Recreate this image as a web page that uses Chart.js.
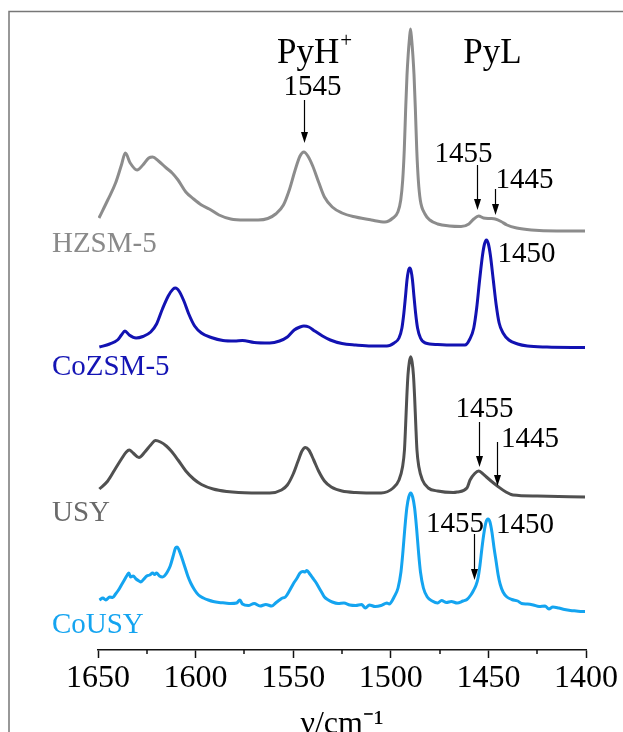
<!DOCTYPE html>
<html><head><meta charset="utf-8">
<script src="https://cdn.jsdelivr.net/npm/chart.js@4/dist/chart.umd.min.js"></script>
<style>html,body{margin:0;padding:0;background:#fff;}#wrap{width:623px;height:732px;position:relative;}</style>
</head><body><div id="wrap"><canvas id="c" width="623" height="732"></canvas></div>
<script>
// ---------- data (wavenumber / cm-1 and stacked intensity, a.u.) ----------
const xTicks = [1650, 1600, 1550, 1500, 1450, 1400];
const xMinorTicks = [1625, 1575, 1525, 1475, 1425];
const axisTitle = 'ν/cm⁻¹';

const seriesNames = ['HZSM-5', 'CoZSM-5', 'USY', 'CoUSY'];

const hzWn  = [1649.5,1645,1641,1638,1636,1633.5,1630,1627,1624,1622,1619,1615,1612,1609,1605,1601,1597,1593,1588,1582,1575,1568,1563,1559,1555,1552,1549,1546.5,1544.5,1542.5,1540,1537,1534,1530,1525,1518,1510,1503,1498.9,1496.4,1494.9,1493.9,1493.1,1492.4,1491.7,1491.1,1490.5,1489.9,1489.3,1488.7,1488.1,1487.4,1486.7,1485.9,1484.9,1482.5,1480,1476,1470,1464,1460,1457.5,1455,1452.5,1449,1446.5,1443.5,1440.5,1435.5,1428,1415,1400.5];
const hzAbs = [4.32,4.50,4.67,4.85,4.97,4.87,4.80,4.85,4.92,4.93,4.89,4.82,4.77,4.70,4.58,4.51,4.45,4.41,4.35,4.31,4.30,4.30,4.315,4.36,4.45,4.60,4.80,4.94,4.98,4.94,4.84,4.68,4.53,4.43,4.37,4.33,4.30,4.28,4.32,4.38,4.50,4.70,5.00,5.40,5.75,5.95,6.10,6.21,6.10,5.95,5.75,5.40,5.00,4.70,4.50,4.36,4.30,4.26,4.24,4.235,4.26,4.31,4.34,4.32,4.315,4.31,4.285,4.25,4.22,4.20,4.19,4.19];

const cozWn  = [1649.3,1644,1640,1638,1636.2,1634,1630.5,1627,1623,1620,1617,1614,1611.5,1610.3,1608.5,1606,1603.5,1600.5,1597,1592,1586,1580,1576,1570,1562,1557,1553,1549.5,1546.5,1544.5,1542,1539,1535,1531,1525,1518,1510,1502,1498.3,1495.8,1494.3,1493.3,1492.5,1491.7,1491.0,1490.3,1489.6,1488.9,1488.1,1487.3,1486.3,1484.8,1482.3,1476,1468,1462,1459.5,1457.5,1456,1454.5,1453,1452,1451,1450,1449,1447.5,1446,1444.5,1442.5,1439.5,1435,1430,1420,1400.5];
const cozAbs = [3.03,3.06,3.10,3.15,3.19,3.15,3.12,3.135,3.18,3.26,3.41,3.54,3.61,3.62,3.59,3.49,3.36,3.24,3.17,3.125,3.095,3.09,3.095,3.075,3.07,3.09,3.13,3.20,3.23,3.24,3.23,3.19,3.14,3.10,3.065,3.05,3.04,3.04,3.07,3.12,3.22,3.37,3.53,3.70,3.79,3.82,3.79,3.70,3.53,3.37,3.22,3.12,3.07,3.055,3.05,3.05,3.11,3.22,3.42,3.70,3.95,4.06,4.10,4.06,3.95,3.70,3.45,3.27,3.17,3.10,3.06,3.04,3.03,3.025];

const usyWn  = [1649.3,1645,1641.5,1638,1635.5,1634,1632,1629,1626,1623,1620.5,1618,1615,1612.5,1609,1605,1601,1597,1591,1584,1578,1562,1556,1553,1550,1547.5,1545.5,1543.8,1542,1539.5,1537,1534,1530.5,1525,1518,1505,1498.8,1495.8,1494.0,1493.0,1492.4,1491.8,1491.2,1490.5,1489.8,1489.1,1488.4,1487.8,1487.2,1486.6,1485.6,1483.8,1480.8,1476,1468,1466,1461,1459.4,1457,1455,1453,1451,1448,1445.4,1441,1437.4,1425,1400.5];
const usyAbs = [1.61,1.69,1.80,1.91,1.98,2.00,1.97,1.925,1.98,2.05,2.095,2.08,2.04,1.99,1.90,1.79,1.71,1.655,1.61,1.585,1.575,1.57,1.60,1.65,1.76,1.89,1.99,2.025,2.00,1.90,1.79,1.69,1.63,1.59,1.575,1.57,1.62,1.70,1.83,2.00,2.25,2.53,2.75,2.88,2.933,2.88,2.75,2.53,2.25,2.00,1.83,1.70,1.62,1.59,1.575,1.58,1.62,1.70,1.765,1.79,1.765,1.73,1.68,1.64,1.58,1.55,1.54,1.53];

const cousyWn  = [1649.3,1647.5,1646,1644,1642.5,1641,1639.5,1638,1636.5,1635,1634.2,1633.3,1632,1630.5,1629,1628,1626.5,1625,1623.5,1622,1621,1620,1618.5,1617,1616,1614.5,1613,1611.5,1610.3,1609.5,1608.5,1607,1605.5,1604,1602.5,1600.5,1598.5,1596,1593.5,1591,1588,1585,1582,1579,1577.3,1576,1573,1570,1567,1564,1561,1559,1557,1555.5,1554,1552,1550,1548,1546.5,1545,1544,1543,1541.5,1540,1538.5,1537,1535.5,1534,1532,1530,1527,1524,1521,1518,1515,1513,1511,1508,1505,1502,1500.8,1498.3,1496.3,1494.8,1493.8,1492.8,1491.8,1490.8,1489.8,1488.8,1487.8,1486.8,1485.8,1484.8,1483.3,1481.3,1478.8,1476,1474,1471.5,1469,1466,1463,1461,1459,1457.5,1456.3,1455.3,1454.3,1453.3,1452.2,1451.2,1450.2,1449.2,1448.2,1447.1,1446,1445,1444,1442.5,1440.5,1438,1435,1433,1430,1427,1424,1421,1419,1417,1414,1411,1408,1405,1402,1400.5];
const cousyAbs = [0.50,0.52,0.50,0.53,0.525,0.56,0.60,0.65,0.70,0.75,0.77,0.73,0.74,0.71,0.69,0.68,0.71,0.74,0.75,0.77,0.755,0.77,0.74,0.73,0.74,0.78,0.84,0.94,1.02,1.03,1.00,0.92,0.83,0.74,0.67,0.60,0.55,0.52,0.50,0.485,0.475,0.47,0.465,0.47,0.50,0.46,0.445,0.465,0.44,0.455,0.44,0.47,0.50,0.52,0.53,0.59,0.66,0.72,0.77,0.785,0.78,0.795,0.76,0.72,0.68,0.63,0.58,0.53,0.50,0.48,0.465,0.47,0.45,0.445,0.455,0.42,0.45,0.435,0.445,0.47,0.46,0.53,0.62,0.78,0.98,1.22,1.42,1.53,1.57,1.53,1.42,1.22,0.98,0.78,0.62,0.53,0.49,0.47,0.495,0.475,0.485,0.47,0.49,0.505,0.55,0.60,0.65,0.72,0.85,1.02,1.18,1.28,1.31,1.28,1.18,1.02,0.88,0.75,0.66,0.58,0.53,0.505,0.49,0.465,0.46,0.45,0.435,0.44,0.41,0.43,0.42,0.405,0.395,0.39,0.385,0.385];

// ---------- styling / annotation config ----------
const seriesColors = ['#8c8c8c', '#1212b2', '#505050', '#14a4f0'];
const labelColors  = ['#8a8a8a', '#1414b4', '#6a6a6a', '#14a4f0'];
const serif = '"Liberation Serif", "Times New Roman", serif';

// sample name labels: [wn, value(baseline)]
const nameAnchors = [[1673.6, 3.98], [1673.6, 2.75], [1673.6, 1.29], [1673.6, 0.17]];
// peak labels: [text, wn(center), value(baseline)]
const peakLabels = [
  ['1545', 1540.1, 5.55], ['1455', 1462.8, 4.88], ['1445', 1431.5, 4.62],
  ['1450', 1430.5, 3.88], ['1455', 1452.0, 2.33], ['1445', 1428.7, 2.03],
  ['1455', 1467.1, 1.18], ['1450', 1431.3, 1.17]
];
// arrows: [wn, from value, to value]
const arrows = [
  [1544.5, 5.50, 5.07], [1456.0, 4.85, 4.40], [1446.6, 4.61, 4.35],
  [1454.8, 2.28, 1.83], [1445.6, 2.08, 1.64], [1457.4, 1.16, 0.70]
];
const bandHeads = [['PyH', '+', 1558.3, 5.87], ['PyL', '', 1447.9, 5.87]];

function toPts(wn, ab){ return wn.map((w,i)=>({x:w, y:ab[i]})); }
const allSeries = [[hzWn,hzAbs],[cozWn,cozAbs],[usyWn,usyAbs],[cousyWn,cousyAbs]];

const overlay = {
  id: 'overlay',
  afterDraw(chart){
    const ctx = chart.ctx, xs = chart.scales.x, ys = chart.scales.y, ca = chart.chartArea;
    ctx.save();
    // frame
    ctx.strokeStyle = '#777'; ctx.lineWidth = 1.5;
    ctx.beginPath(); ctx.moveTo(9, chart.height); ctx.lineTo(9, ca.top+0.5); ctx.lineTo(chart.width, ca.top+0.5); ctx.stroke();
    // minor ticks
    ctx.strokeStyle = '#111'; ctx.lineWidth = 1.5;
    xMinorTicks.forEach(t=>{ const px = Math.round(xs.getPixelForValue(t)); ctx.beginPath(); ctx.moveTo(px, ca.bottom); ctx.lineTo(px, ca.bottom+4); ctx.stroke(); });
    // band heads
    ctx.fillStyle = '#000'; ctx.textBaseline = 'alphabetic'; ctx.textAlign = 'left';
    bandHeads.forEach(([t, sup, wn, v], i)=>{
      ctx.font = '35px ' + serif;
      const w = ctx.measureText(t).width;
      let px = xs.getPixelForValue(wn); const py = ys.getPixelForValue(v);
      if (i === 1) px -= w/2;
      ctx.fillText(t, px, py);
      if (sup){ ctx.font = '21px ' + serif; ctx.fillText(sup, px + w + 1, py - 16); }
    });
    // peak labels
    ctx.font = '29px ' + serif; ctx.textAlign = 'center';
    peakLabels.forEach(([t, wn, v])=> ctx.fillText(t, xs.getPixelForValue(wn), ys.getPixelForValue(v)));
    // arrows
    ctx.strokeStyle = '#000'; ctx.fillStyle = '#000'; ctx.lineWidth = 1.2;
    arrows.forEach(([wn, v1, v2])=>{
      const px = Math.round(xs.getPixelForValue(wn)) + 0.5, y1 = ys.getPixelForValue(v1), y2 = ys.getPixelForValue(v2);
      ctx.beginPath(); ctx.moveTo(px, y1); ctx.lineTo(px, y2 - 9); ctx.stroke();
      ctx.beginPath(); ctx.moveTo(px - 3.5, y2 - 11); ctx.lineTo(px + 3.5, y2 - 11); ctx.lineTo(px, y2); ctx.closePath(); ctx.fill();
    });
    // sample names
    ctx.font = '29px ' + serif; ctx.textAlign = 'left';
    seriesNames.forEach((n, i)=>{ ctx.fillStyle = labelColors[i]; ctx.fillText(n, xs.getPixelForValue(nameAnchors[i][0]), ys.getPixelForValue(nameAnchors[i][1])); });
    ctx.restore();
  }
};

new Chart(document.getElementById('c'), {
  type: 'line',
  data: {
    datasets: allSeries.map((s, i)=>({
      label: seriesNames[i], data: toPts(s[0], s[1]),
      borderColor: seriesColors[i], borderWidth: 3, pointRadius: 0,
      cubicInterpolationMode: 'monotone', fill: false
    }))
  },
  options: {
    responsive: false, animation: false, devicePixelRatio: 1,
    layout: { padding: { left: 98, right: 37, top: 11, bottom: 0 } },
    plugins: { legend: { display: false }, tooltip: { enabled: false } },
    scales: {
      x: {
        type: 'linear', reverse: true, min: 1400, max: 1650,
        afterBuildTicks: (s)=>{ s.ticks = xTicks.map(v=>({value:v})); },
        afterFit: (s)=>{ s.height = 82; },
        border: { display: true, color: '#111', width: 1.5 },
        grid: { drawOnChartArea: false, drawTicks: true, tickLength: 8, tickColor: '#111', tickWidth: 1.5 },
        ticks: { color: '#000', padding: 5, maxRotation: 0, autoSkip: false,
                 callback: (v)=>String(v),
                 font: { family: serif, size: 32, lineHeight: 1 } },
        title: { display: true, text: axisTitle, color: '#000', padding: { top: 0, bottom: -9 },
                 font: { family: serif, size: 32, lineHeight: 1 } }
      },
      y: { display: false, min: 0, max: 6.39 }
    }
  },
  plugins: [overlay]
});
</script></body></html>
